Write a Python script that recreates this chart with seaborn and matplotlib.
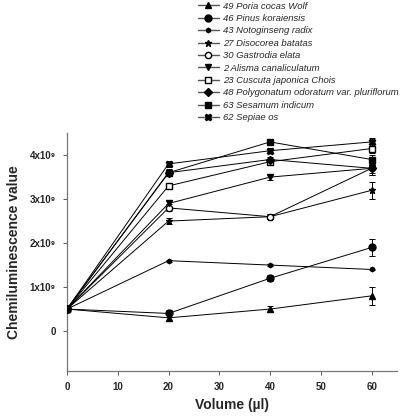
import numpy as np
import pandas as pd
import matplotlib
matplotlib.use("Agg")
import matplotlib.pyplot as plt
import seaborn as sns

volume = [0, 20, 40, 60]
labels = ["49 Poria cocas Wolf", "46 Pinus koraiensis", "43 Notoginseng radix",
          "27 Disocorea batatas", "30 Gastrodia elata", "2 Alisma canaliculatum",
          "23 Cuscuta japonica Chois", "48 Polygonatum odoratum var. pluriflorum",
          "63 Sesamum indicum", "62 Sepiae os"]
poria = [0.5, 0.3, 0.5, 0.8]
pinus = [0.5, 0.4, 1.2, 1.9]
notoginseng = [0.5, 1.6, 1.5, 1.4]
disocorea = [0.5, 2.5, 2.6, 3.2]
gastrodia = [0.5, 2.8, 2.6, 3.7]
alisma = [0.5, 2.9, 3.5, 3.7]
cuscuta = [0.5, 3.3, 3.85, 4.15]
polygonatum = [0.5, 3.6, 3.9, 3.7]
sesamum = [0.5, 3.6, 4.3, 3.9]
sepiae = [0.5, 3.8, 4.1, 4.3]
err_poria = [0.07, 0.08, 0.06, 0.2]
err_pinus = [0.07, 0.08, 0.07, 0.2]
err_notoginseng = [0.07, 0.02, 0.02, 0.02]
err_disocorea = [0.07, 0.07, 0.05, 0.2]
err_gastrodia = [0.07, 0.08, 0.06, 0.15]
err_alisma = [0.07, 0.08, 0.07, 0.15]
err_cuscuta = [0.07, 0.07, 0.07, 0.1]
err_polygonatum = [0.07, 0.07, 0.06, 0.1]
err_sesamum = [0.07, 0.08, 0.07, 0.1]
err_sepiae = [0.07, 0.07, 0.06, 0.1]
yticks = [0, 1, 2, 3, 4]
yticklabels = ["0", "1x10⁹", "2x10⁹", "3x10⁹", "4x10⁹"]

series = [poria, pinus, notoginseng, disocorea, gastrodia, alisma, cuscuta,
          polygonatum, sesamum, sepiae]
errs = [err_poria, err_pinus, err_notoginseng, err_disocorea, err_gastrodia,
        err_alisma, err_cuscuta, err_polygonatum, err_sesamum, err_sepiae]
styles = [("^", "black", 4.5), ("o", "black", 5), ("h", "black", 3.2),
          ("*", "black", 5), ("o", "white", 4.5), ("v", "black", 4.5),
          ("s", "white", 4), ("D", "black", 4), ("s", "black", 4.5),
          ("X", "black", 4.5)]

sns.set_style("ticks")
plt.rcParams['font.family'] = ['Liberation Sans', 'DejaVu Sans']

fig = plt.figure(figsize=(4.0, 4.16), dpi=100)
ax = fig.add_axes([0.1675, 0.108, 0.825, 0.572])

handles = []
for lab, ys, er, (m, fc, ms) in zip(labels, series, errs, styles):
    vals = np.array(ys) * 1e9
    df = pd.DataFrame({"x": volume, "y": vals})
    sns.lineplot(data=df, x="x", y="y", ax=ax, color="black", lw=0.7,
                 marker=m, markersize=ms, markerfacecolor=fc,
                 markeredgecolor="black", markeredgewidth=1.0, zorder=3)
    ax.errorbar(volume, vals, yerr=np.array(er) * 1e9, fmt="none",
                ecolor="black", elinewidth=0.7, capsize=2.5, capthick=0.7, zorder=2)
    h, = ax.plot([], [], color="#555555", lw=1.0, marker=m, markersize=ms,
                 markerfacecolor=fc, markeredgecolor="black", markeredgewidth=1.0)
    handles.append(h)

ax.set_xlim(0, 65)
ax.set_ylim(-0.91e9, 4.5e9)
ax.set_xticks([0, 10, 20, 30, 40, 50, 60])
ax.set_yticks([v * 1e9 for v in yticks])
ax.set_yticklabels(yticklabels)
for t in ax.get_xticklabels() + ax.get_yticklabels():
    t.set_fontsize(7)
    t.set_fontweight("bold")
ax.tick_params(axis="both", length=3, width=0.7, color="#555555", pad=5)
for s in ["top", "right"]:
    ax.spines[s].set_visible(False)
for s in ["left", "bottom"]:
    ax.spines[s].set_color("#777777")
    ax.spines[s].set_linewidth(0.9)
ax.set_xlabel("Volume (µl)", fontsize=10, fontweight="bold", labelpad=4)
ax.set_ylabel("Chemiluminescence value", fontsize=10, fontweight="bold", labelpad=6)

fig.legend(handles, labels, loc="upper left", bbox_to_anchor=(0.485, 1.005),
           frameon=False, prop={"size": 6.8, "style": "italic"},
           handlelength=2.2, handletextpad=0.5, labelspacing=0.36,
           borderaxespad=0)

fig.savefig("out.png", dpi=100)
